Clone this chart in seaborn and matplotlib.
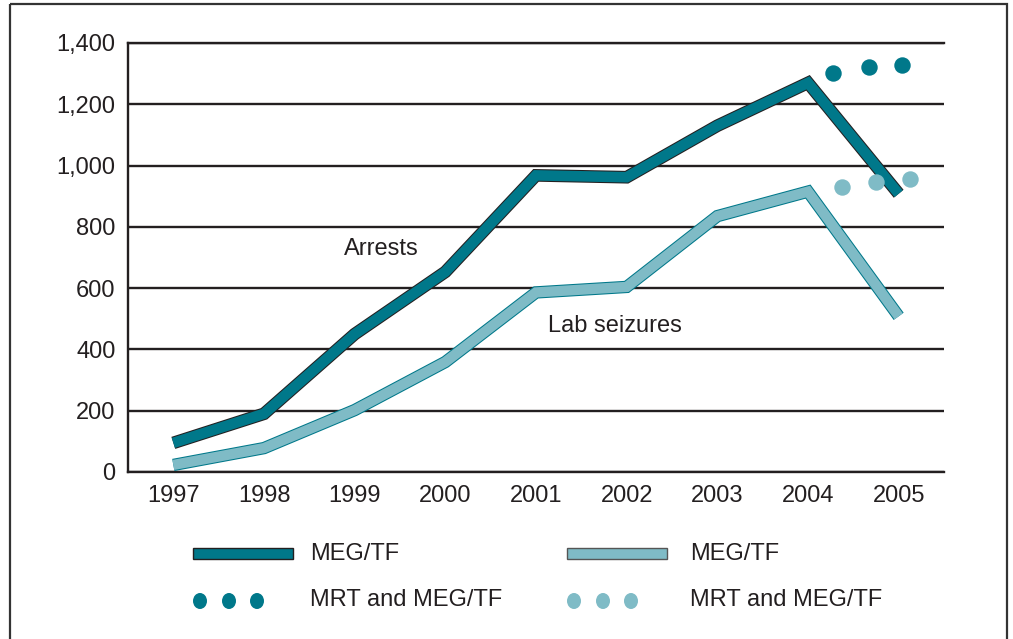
import numpy as np
import pandas as pd
import matplotlib
matplotlib.use("Agg")
import matplotlib.pyplot as plt
import matplotlib.patheffects as pe
from matplotlib.patches import Rectangle, Ellipse
import seaborn as sns

# ---------------- data ----------------
years = [1997, 1998, 1999, 2000, 2001, 2002, 2003, 2004, 2005]
arrests_meg = [95, 190, 450, 653, 968, 962, 1130, 1270, 908]
labs_meg = [23, 78, 202, 359, 586, 604, 835, 915, 508]

mrt_arrests_x = [2004.28, 2004.67, 2005.04]
mrt_arrests = [1302, 1322, 1328]
mrt_labs_x = [2004.37, 2004.75, 2005.13]
mrt_labs = [930, 946, 956]

yticks = [0, 200, 400, 600, 800, 1000, 1200, 1400]
ytick_labels = ["0", "200", "400", "600", "800", "1,000", "1,200", "1,400"]
legend_labels = ["MEG/TF", "MEG/TF", "MRT and MEG/TF", "MRT and MEG/TF"]

# ---------------- style ----------------
DARK = "#00788A"
LIGHT = "#7FBBC6"
INK = "#231F20"

sns.set_style("white")
plt.rcParams["font.family"] = ["Liberation Sans", "DejaVu Sans"]
plt.rcParams["text.color"] = INK

W, H = 1013, 639
fig = plt.figure(figsize=(W / 100, H / 100), dpi=100)
fig.patch.set_facecolor("white")

ax = fig.add_axes([128 / W, 1 - 472 / H, (944 - 128) / W, (472 - 43) / H])

df_a = pd.DataFrame({"year": years, "value": arrests_meg})
df_l = pd.DataFrame({"year": years, "value": labs_meg})
df_ma = pd.DataFrame({"year": mrt_arrests_x, "value": mrt_arrests})
df_ml = pd.DataFrame({"year": mrt_labs_x, "value": mrt_labs})

sns.lineplot(data=df_l, x="year", y="value", ax=ax, color=LIGHT, lw=7.4,
             solid_joinstyle="miter", solid_capstyle="butt", zorder=4,
             path_effects=[pe.Stroke(linewidth=8.9, foreground=DARK,
                                     joinstyle="miter", capstyle="butt"),
                           pe.Normal()])
sns.lineplot(data=df_a, x="year", y="value", ax=ax, color=DARK, lw=7.6,
             solid_joinstyle="miter", solid_capstyle="butt", zorder=5,
             path_effects=[pe.Stroke(linewidth=9.1, foreground=INK,
                                     joinstyle="miter", capstyle="butt"),
                           pe.Normal()])
sns.scatterplot(data=df_ml, x="year", y="value", ax=ax, color=LIGHT, s=140,
                linewidth=0, zorder=6)
sns.scatterplot(data=df_ma, x="year", y="value", ax=ax, color=DARK, s=140,
                linewidth=0, zorder=6)

ax.set_xlim(1996.5, 2005.5)
ax.set_ylim(0, 1400)
ax.set_xlabel("")
ax.set_ylabel("")

# y axis
ax.set_yticks(yticks)
ax.set_yticklabels(ytick_labels, fontsize=17, color=INK)
ax.tick_params(axis="y", length=0, pad=9)
ax.yaxis.grid(True, color=INK, lw=1.7)
ax.set_axisbelow(True)

# x axis: boundary ticks (major) + centered labels (minor)
ax.set_xticks(np.arange(1996.5, 2006, 1.0))
ax.set_xticklabels([])
ax.set_xticks(years, minor=True)
ax.set_xticklabels([str(y) for y in years], minor=True, fontsize=17, color=INK)
ax.tick_params(axis="x", which="major", direction="in", length=8, width=1.7, color=INK)
ax.tick_params(axis="x", which="minor", length=0, pad=9)

for side in ["left", "bottom", "top"]:
    ax.spines[side].set_visible(True)
    ax.spines[side].set_color(INK)
    ax.spines[side].set_linewidth(1.7)
ax.spines["right"].set_visible(False)

ax.text(1999.29, 728, "Arrests", fontsize=17, ha="center", va="center", color=INK)
ax.text(2001.87, 476, "Lab seizures", fontsize=17, ha="center", va="center", color=INK)

# ---------------- legend & frame (pixel overlay) ----------------
ov = fig.add_axes([0, 0, 1, 1], zorder=-1)
ov.set_xlim(0, W)
ov.set_ylim(H, 0)
ov.axis("off")

ov.add_patch(Rectangle((10, 4), 997, 700, fill=False, ec="#333333", lw=1.6))

ov.add_patch(Rectangle((193, 548), 100, 11, fc=DARK, ec=INK, lw=1.0))
ov.add_patch(Rectangle((567, 548), 100, 11, fc=LIGHT, ec="#555555", lw=1.0))
for cx in (200, 229, 257):
    ov.add_patch(Ellipse((cx, 601), 14, 16, fc=DARK, ec="none"))
for cx in (574, 603, 631):
    ov.add_patch(Ellipse((cx, 601), 14, 16, fc=LIGHT, ec="none"))

ov.text(310, 554, legend_labels[0], fontsize=17, va="center", ha="left", color=INK)
ov.text(690, 554, legend_labels[1], fontsize=17, va="center", ha="left", color=INK)
ov.text(310, 600, legend_labels[2], fontsize=17, va="center", ha="left", color=INK)
ov.text(690, 600, legend_labels[3], fontsize=17, va="center", ha="left", color=INK)

fig.savefig("out.png", dpi=100, facecolor="white")
